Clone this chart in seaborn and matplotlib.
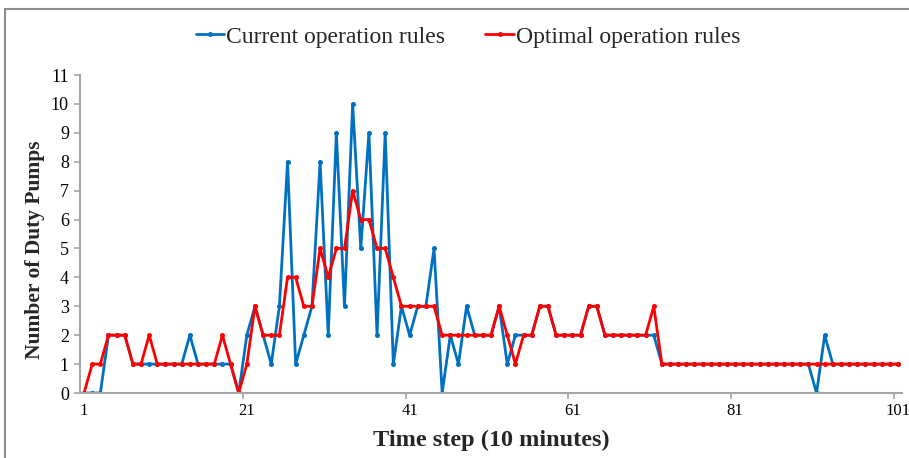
import numpy as np
import pandas as pd
import seaborn as sns
import matplotlib
matplotlib.use("Agg")
import matplotlib.pyplot as plt
from matplotlib.patches import Rectangle

# Number of duty pumps per 10-minute time step
time_steps = list(range(1, 102))

current_rules = [
    0, 0, 0, 2, 2, 2, 1, 1, 1, 1,
    1, 1, 1, 2, 1, 1, 1, 1, 1, 0,
    2, 3, 2, 1, 3, 8, 1, 2, 3, 8,
    2, 9, 3, 10, 5, 9, 2, 9, 1, 3,
    2, 3, 3, 5, 0, 2, 1, 3, 2, 2,
    2, 3, 1, 2, 2, 2, 3, 3, 2, 2,
    2, 2, 3, 3, 2, 2, 2, 2, 2, 2,
    2, 1, 1, 1, 1, 1, 1, 1, 1, 1,
    1, 1, 1, 1, 1, 1, 1, 1, 1, 1,
    0, 2, 1, 1, 1, 1, 1, 1, 1, 1,
    1,
]

optimal_rules = [
    0, 1, 1, 2, 2, 2, 1, 1, 2, 1,
    1, 1, 1, 1, 1, 1, 1, 2, 1, 0,
    1, 3, 2, 2, 2, 4, 4, 3, 3, 5,
    4, 5, 5, 7, 6, 6, 5, 5, 4, 3,
    3, 3, 3, 3, 2, 2, 2, 2, 2, 2,
    2, 3, 2, 1, 2, 2, 3, 3, 2, 2,
    2, 2, 3, 3, 2, 2, 2, 2, 2, 2,
    3, 1, 1, 1, 1, 1, 1, 1, 1, 1,
    1, 1, 1, 1, 1, 1, 1, 1, 1, 1,
    1, 1, 1, 1, 1, 1, 1, 1, 1, 1,
    1,
]

series_names = ["Current operation rules", "Optimal operation rules"]
series_colors = {"Current operation rules": "#0070C0",
                 "Optimal operation rules": "#FF0000"}

x_labels = [1, 21, 41, 61, 81, 101]
y_ticks = list(range(0, 12))

df = pd.DataFrame({
    "step": time_steps * 2,
    "pumps": current_rules + optimal_rules,
    "series": [series_names[0]] * len(time_steps) + [series_names[1]] * len(time_steps),
})

sns.set_theme(style="white")
plt.rcParams["font.family"] = ["Liberation Serif", "DejaVu Serif"]

fig = plt.figure(figsize=(9.09, 4.58), dpi=100)
ax = fig.add_axes([80 / 909, 1 - 393 / 458, 822 / 909, 318 / 458])

sns.lineplot(data=df, x="step", y="pumps", hue="series", hue_order=series_names,
             palette=series_colors, marker="o", markersize=3.6, markeredgewidth=0,
             linewidth=2.0, ax=ax, legend=True)

ax.set_xlim(0.5, 101.5)
ax.set_ylim(0, 11)

# category labels centred under steps, tick marks on category boundaries
ax.set_xticks(x_labels)
ax.set_xticklabels([str(v) for v in x_labels])
ax.set_xticks([20.5, 40.5, 60.5, 80.5, 100.5], minor=True)
ax.tick_params(axis="x", which="major", length=0, pad=7, labelsize=12, colors="black")
ax.tick_params(axis="x", which="minor", length=4, width=1.2, color="#A6A6A6", direction="out", bottom=True)

ax.set_yticks(y_ticks)
ax.tick_params(axis="y", length=4, width=1.2, color="#A6A6A6", direction="out",
               pad=4, labelsize=13, labelcolor="black", left=True)

for side in ["top", "right"]:
    ax.spines[side].set_visible(False)
for side in ["left", "bottom"]:
    ax.spines[side].set_color("#A6A6A6")
    ax.spines[side].set_linewidth(1.5)

ax.set_xlabel("Time step (10 minutes)", fontsize=17.5, fontweight="bold", labelpad=8)
ax.set_ylabel("Number of Duty Pumps", fontsize=15.5, fontweight="bold")
ax.yaxis.set_label_coords(-0.043, 0.45)

handles, labels = ax.get_legend_handles_labels()
ax.legend(handles, labels, loc="center", bbox_to_anchor=(0.472, 1 + (75 - 37) / 318),
          ncol=2, frameon=False, fontsize=17, handlelength=1.2, handletextpad=0.1,
          columnspacing=1.7)

# outer chart frame
fig.patches.append(Rectangle((5 / 909, -0.1), 1.2, 1 - 9 / 458 + 0.1,
                             transform=fig.transFigure, fill=False,
                             edgecolor="#8C8C8C", linewidth=1.5))

fig.savefig("out.png", dpi=100, facecolor="white")
